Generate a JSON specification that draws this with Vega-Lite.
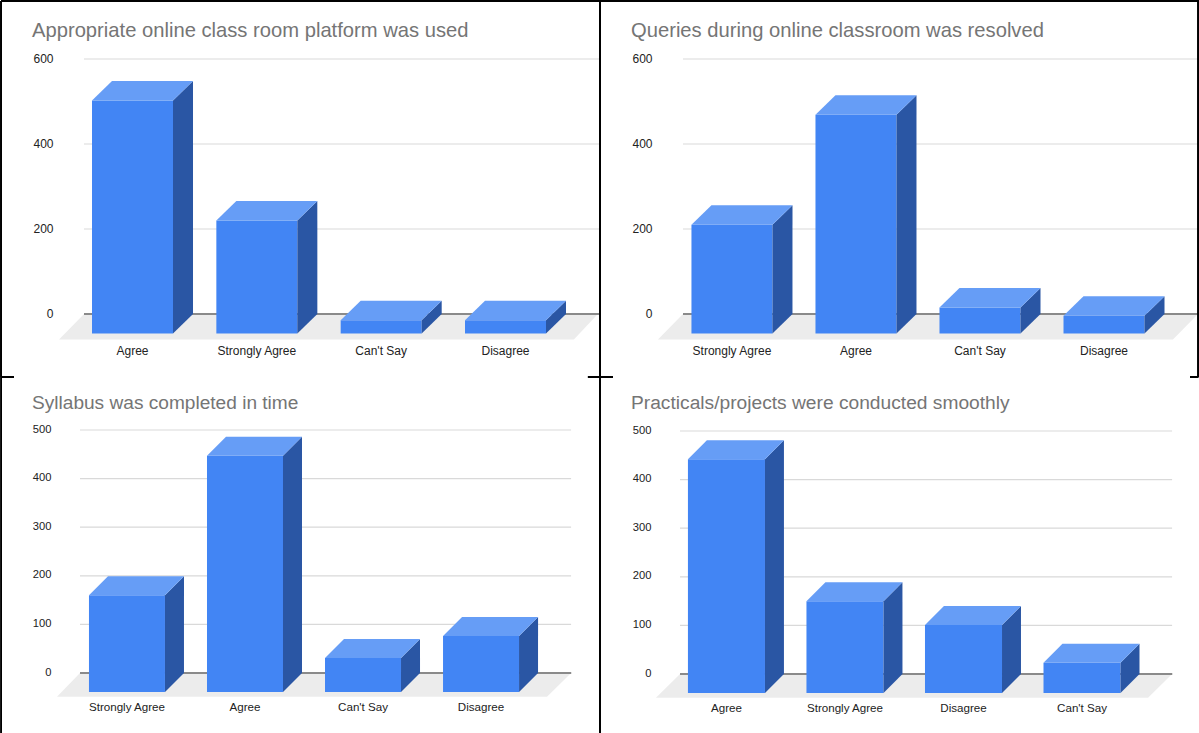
{
"$schema":"https://vega.github.io/schema/vega-lite/v6.json",
"padding":0,
"bounds":"flush",
"spacing":371,
"background":"white",
"config":{"view":{"stroke":null},"font":"Liberation Sans","title":{"font":"Liberation Sans","fontWeight":"normal","color":"#757575","anchor":"start","frame":"group"},"rule":{"color":"black","strokeWidth":1.6}},
"vconcat":[
{"hconcat":[
{"width":520,"height":255,
 "title":{"text":"Appropriate online class room platform was used","fontSize":20.2,"dx":-48,"offset":-41},
 "data":{"values":[{"answer":"Agree","responses":548},{"answer":"Strongly Agree","responses":266},{"answer":"Can't Say","responses":31},{"answer":"Disagree","responses":31}]},
 "transform":[{"window":[{"op":"row_number","as":"n"}]},{"calculate":"datum.n-1","as":"pos"},{"calculate":"datum.pos-0.3257","as":"xl"},{"calculate":"datum.pos+0.3257","as":"xr"},{"calculate":"datum.responses-45.9","as":"frontTop"}],
 "resolve":{"axis":{"y":"independent"}},
 "layer":[
  {"data":{"values":[{"surface":"floor"}]},"transform":[{"calculate":"[-0.591,-0.390,3.550,3.743]","as":"fx"},{"calculate":"[-60,-60,-60,0]","as":"fl"},{"calculate":"[-60,0,0,0]","as":"fu"},{"flatten":["fx","fl","fu"]}],
   "mark":{"type":"area","orient":"vertical","color":"#ececec"},
   "encoding":{"x":{"field":"fx","type":"quantitative","scale":{"domain":[-0.4223,3.76],"nice":false,"zero":false},"axis":null},
    "y":{"field":"fl","type":"quantitative","scale":{"domain":[0,600],"nice":false},"axis":null},"y2":{"field":"fu"}}},
  {"data":{"values":[{"tick":0},{"tick":200},{"tick":400},{"tick":600}]},
   "mark":{"type":"rule","color":"#d9d9d9","strokeWidth":1.2},
   "encoding":{"y":{"field":"tick","type":"quantitative","axis":{"title":null,"domain":false,"ticks":false,"grid":false,"values":[0,200,400,600],"labelPadding":27,"labelFontSize":12,"labelColor":"#222222","labelOffset":-1}},
    "x":{"datum":-0.390,"type":"quantitative","axis":null},"x2":{"datum":3.76}}},
  {"mark":{"type":"rule","color":"#8a8a8a","strokeWidth":1.4},"encoding":{"y":{"datum":0,"type":"quantitative","axis":null},"x":{"datum":-0.390,"type":"quantitative","axis":null},"x2":{"datum":3.76}}},
  {"mark":{"type":"rect","color":"#4285f4"},"encoding":{"x":{"field":"xl","type":"quantitative","axis":null},"x2":{"field":"xr"},"y":{"field":"frontTop","type":"quantitative","axis":null},"y2":{"datum":-45.9}}},
  {"transform":[{"calculate":"[datum.xr,datum.xr+0.1609]","as":"sx"},{"calculate":"[datum.frontTop,datum.responses]","as":"st"},{"calculate":"[-45.9,0]","as":"sb"},{"flatten":["sx","st","sb"]}],
   "mark":{"type":"area","orient":"vertical","color":"#2a56a4"},
   "encoding":{"x":{"field":"sx","type":"quantitative","axis":null},"y":{"field":"st","type":"quantitative","axis":null},"y2":{"field":"sb"},"detail":{"field":"answer"}}},
  {"transform":[{"calculate":"[datum.xl,datum.xl+0.1609,datum.xr,datum.xr+0.1609]","as":"tx"},{"calculate":"[datum.frontTop,datum.frontTop,datum.frontTop,datum.responses]","as":"tl"},{"calculate":"[datum.frontTop,datum.responses,datum.responses,datum.responses]","as":"tu"},{"flatten":["tx","tl","tu"]}],
   "mark":{"type":"area","orient":"vertical","color":"#669df6"},
   "encoding":{"x":{"field":"tx","type":"quantitative","axis":null},"y":{"field":"tl","type":"quantitative","axis":null},"y2":{"field":"tu"},"detail":{"field":"answer"}}},
  {"mark":{"type":"text","fontSize":12,"color":"#222222","baseline":"middle"},"encoding":{"x":{"field":"pos","type":"quantitative","axis":null},"y":{"datum":-87,"type":"quantitative","axis":null},"text":{"field":"answer"}}},
  {"mark":{"type":"rule"},"encoding":{"x":{"datum":-1.0561,"type":"quantitative","axis":null},"y":{"datum":736.5,"type":"quantitative","axis":null},"y2":{"datum":-148.2}}},
  {"mark":{"type":"rule"},"encoding":{"y":{"datum":736.5,"type":"quantitative","axis":null},"x":{"datum":-1.0561,"type":"quantitative","axis":null},"x2":{"datum":3.76}}},
  {"mark":{"type":"rule"},"encoding":{"x":{"datum":3.76,"type":"quantitative","axis":null},"y":{"datum":736.5,"type":"quantitative","axis":null},"y2":{"datum":-148.2}}},
  {"mark":{"type":"rule"},"encoding":{"y":{"datum":-148.2,"type":"quantitative","axis":null},"x":{"datum":-1.0561,"type":"quantitative","axis":null},"x2":{"datum":-0.953}}},
  {"mark":{"type":"rule"},"encoding":{"y":{"datum":-148.2,"type":"quantitative","axis":null},"x":{"datum":3.663,"type":"quantitative","axis":null},"x2":{"datum":3.76}}}
 ]},
{"width":519,"height":255,
 "title":{"text":"Queries during online classroom was resolved","fontSize":20.2,"dx":-49,"offset":-41},
 "data":{"values":[{"answer":"Strongly Agree","responses":256},{"answer":"Agree","responses":515},{"answer":"Can't Say","responses":61},{"answer":"Disagree","responses":42}]},
 "transform":[{"window":[{"op":"row_number","as":"n"}]},{"calculate":"datum.n-1","as":"pos"},{"calculate":"datum.pos-0.3266","as":"xl"},{"calculate":"datum.pos+0.3266","as":"xr"},{"calculate":"datum.responses-45.9","as":"frontTop"}],
 "resolve":{"axis":{"y":"independent"}},
 "layer":[
  {"data":{"values":[{"surface":"floor"}]},"transform":[{"calculate":"[-0.597,-0.395,3.556,3.758]","as":"fx"},{"calculate":"[-60,-60,-60,0]","as":"fl"},{"calculate":"[-60,0,0,0]","as":"fu"},{"flatten":["fx","fl","fu"]}],
   "mark":{"type":"area","orient":"vertical","color":"#ececec"},
   "encoding":{"x":{"field":"fx","type":"quantitative","scale":{"domain":[-0.419,3.766],"nice":false,"zero":false},"axis":null},
    "y":{"field":"fl","type":"quantitative","scale":{"domain":[0,600],"nice":false},"axis":null},"y2":{"field":"fu"}}},
  {"data":{"values":[{"tick":0},{"tick":200},{"tick":400},{"tick":600}]},
   "mark":{"type":"rule","color":"#d9d9d9","strokeWidth":1.2},
   "encoding":{"y":{"field":"tick","type":"quantitative","axis":{"title":null,"domain":false,"ticks":false,"grid":false,"values":[0,200,400,600],"labelPadding":28,"labelFontSize":12,"labelColor":"#222222","labelOffset":-1}},
    "x":{"datum":-0.395,"type":"quantitative","axis":null},"x2":{"datum":3.758}}},
  {"mark":{"type":"rule","color":"#8a8a8a","strokeWidth":1.4},"encoding":{"y":{"datum":0,"type":"quantitative","axis":null},"x":{"datum":-0.395,"type":"quantitative","axis":null},"x2":{"datum":3.758}}},
  {"mark":{"type":"rect","color":"#4285f4"},"encoding":{"x":{"field":"xl","type":"quantitative","axis":null},"x2":{"field":"xr"},"y":{"field":"frontTop","type":"quantitative","axis":null},"y2":{"datum":-45.9}}},
  {"transform":[{"calculate":"[datum.xr,datum.xr+0.1613]","as":"sx"},{"calculate":"[datum.frontTop,datum.responses]","as":"st"},{"calculate":"[-45.9,0]","as":"sb"},{"flatten":["sx","st","sb"]}],
   "mark":{"type":"area","orient":"vertical","color":"#2a56a4"},
   "encoding":{"x":{"field":"sx","type":"quantitative","axis":null},"y":{"field":"st","type":"quantitative","axis":null},"y2":{"field":"sb"},"detail":{"field":"answer"}}},
  {"transform":[{"calculate":"[datum.xl,datum.xl+0.1613,datum.xr,datum.xr+0.1613]","as":"tx"},{"calculate":"[datum.frontTop,datum.frontTop,datum.frontTop,datum.responses]","as":"tl"},{"calculate":"[datum.frontTop,datum.responses,datum.responses,datum.responses]","as":"tu"},{"flatten":["tx","tl","tu"]}],
   "mark":{"type":"area","orient":"vertical","color":"#669df6"},
   "encoding":{"x":{"field":"tx","type":"quantitative","axis":null},"y":{"field":"tl","type":"quantitative","axis":null},"y2":{"field":"tu"},"detail":{"field":"answer"}}},
  {"mark":{"type":"text","fontSize":12,"color":"#222222","baseline":"middle"},"encoding":{"x":{"field":"pos","type":"quantitative","axis":null},"y":{"datum":-87,"type":"quantitative","axis":null},"text":{"field":"answer"}}},
  {"mark":{"type":"rule"},"encoding":{"y":{"datum":736.5,"type":"quantitative","axis":null},"x":{"datum":-1.0645,"type":"quantitative","axis":null},"x2":{"datum":3.766}}},
  {"mark":{"type":"rule"},"encoding":{"x":{"datum":3.760,"type":"quantitative","axis":null},"y":{"datum":736.5,"type":"quantitative","axis":null},"y2":{"datum":-148.2}}},
  {"mark":{"type":"rule"},"encoding":{"y":{"datum":-148.2,"type":"quantitative","axis":null},"x":{"datum":-1.0645,"type":"quantitative","axis":null},"x2":{"datum":-0.960}}},
  {"mark":{"type":"rule"},"encoding":{"y":{"datum":-148.2,"type":"quantitative","axis":null},"x":{"datum":3.694,"type":"quantitative","axis":null},"x2":{"datum":3.76}}}
 ]}
],"spacing":80,"bounds":"flush"},
{"hconcat":[
{"width":520,"height":244,
 "title":{"text":"Syllabus was completed in time","fontSize":19.1,"dx":-48,"offset":-37},
 "data":{"values":[{"answer":"Strongly Agree","responses":199},{"answer":"Agree","responses":486},{"answer":"Can't Say","responses":70},{"answer":"Disagree","responses":115}]},
 "transform":[{"window":[{"op":"row_number","as":"n"}]},{"calculate":"datum.n-1","as":"pos"},{"calculate":"datum.pos-0.322","as":"xl"},{"calculate":"datum.pos+0.322","as":"xr"},{"calculate":"datum.responses-39.1","as":"frontTop"}],
 "resolve":{"axis":{"y":"independent"}},
 "layer":[
  {"data":{"values":[{"surface":"floor"}]},"transform":[{"calculate":"[-0.593,-0.398,3.559,3.763]","as":"fx"},{"calculate":"[-48.8,-48.8,-48.8,0]","as":"fl"},{"calculate":"[-48.8,0,0,0]","as":"fu"},{"flatten":["fx","fl","fu"]}],
   "mark":{"type":"area","orient":"vertical","color":"#ececec"},
   "encoding":{"x":{"field":"fx","type":"quantitative","scale":{"domain":[-0.398,4.008],"nice":false,"zero":false},"axis":null},
    "y":{"field":"fl","type":"quantitative","scale":{"domain":[0,500],"nice":false,"range":[243,0]},"axis":null},"y2":{"field":"fu"}}},
  {"data":{"values":[{"tick":0},{"tick":100},{"tick":200},{"tick":300},{"tick":400},{"tick":500}]},
   "mark":{"type":"rule","color":"#d9d9d9","strokeWidth":1.2},
   "encoding":{"y":{"field":"tick","type":"quantitative","axis":{"title":null,"domain":false,"ticks":false,"grid":false,"values":[0,100,200,300,400,500],"labelPadding":29,"labelFontSize":11.2,"labelColor":"#222222","labelOffset":-1}},
    "x":{"datum":-0.398,"type":"quantitative","axis":null},"x2":{"datum":3.763}}},
  {"mark":{"type":"rule","color":"#8a8a8a","strokeWidth":1.4},"encoding":{"y":{"datum":0,"type":"quantitative","axis":null},"x":{"datum":-0.398,"type":"quantitative","axis":null},"x2":{"datum":3.763}}},
  {"mark":{"type":"rect","color":"#4285f4"},"encoding":{"x":{"field":"xl","type":"quantitative","axis":null},"x2":{"field":"xr"},"y":{"field":"frontTop","type":"quantitative","axis":null},"y2":{"datum":-39.1}}},
  {"transform":[{"calculate":"[datum.xr,datum.xr+0.161]","as":"sx"},{"calculate":"[datum.frontTop,datum.responses]","as":"st"},{"calculate":"[-39.1,0]","as":"sb"},{"flatten":["sx","st","sb"]}],
   "mark":{"type":"area","orient":"vertical","color":"#2a56a4"},
   "encoding":{"x":{"field":"sx","type":"quantitative","axis":null},"y":{"field":"st","type":"quantitative","axis":null},"y2":{"field":"sb"},"detail":{"field":"answer"}}},
  {"transform":[{"calculate":"[datum.xl,datum.xl+0.161,datum.xr,datum.xr+0.161]","as":"tx"},{"calculate":"[datum.frontTop,datum.frontTop,datum.frontTop,datum.responses]","as":"tl"},{"calculate":"[datum.frontTop,datum.responses,datum.responses,datum.responses]","as":"tu"},{"flatten":["tx","tl","tu"]}],
   "mark":{"type":"area","orient":"vertical","color":"#669df6"},
   "encoding":{"x":{"field":"tx","type":"quantitative","axis":null},"y":{"field":"tl","type":"quantitative","axis":null},"y2":{"field":"tu"},"detail":{"field":"answer"}}},
  {"mark":{"type":"text","fontSize":11.6,"color":"#222222","baseline":"middle"},"encoding":{"x":{"field":"pos","type":"quantitative","axis":null},"y":{"datum":-72,"type":"quantitative","axis":null},"text":{"field":"answer"}}},
  {"mark":{"type":"rule","strokeWidth":1.2},"encoding":{"x":{"datum":-1.066,"type":"quantitative","axis":null},"y":{"datum":609,"type":"quantitative","axis":null},"y2":{"datum":-123.5}}}
 ]},
{"width":519,"height":244,
 "title":{"text":"Practicals/projects were conducted smoothly","fontSize":19.2,"dx":-49,"offset":-37},
 "data":{"values":[{"answer":"Agree","responses":481},{"answer":"Strongly Agree","responses":189},{"answer":"Disagree","responses":140},{"answer":"Can't Say","responses":62}]},
 "transform":[{"window":[{"op":"row_number","as":"n"}]},{"calculate":"datum.n-1","as":"pos"},{"calculate":"datum.pos-0.325","as":"xl"},{"calculate":"datum.pos+0.325","as":"xr"},{"calculate":"datum.responses-39.1","as":"frontTop"}],
 "resolve":{"axis":{"y":"independent"}},
 "layer":[
  {"data":{"values":[{"surface":"floor"}]},"transform":[{"calculate":"[-0.595,-0.392,3.557,3.760]","as":"fx"},{"calculate":"[-48.8,-48.8,-48.8,0]","as":"fl"},{"calculate":"[-48.8,0,0,0]","as":"fu"},{"flatten":["fx","fl","fu"]}],
   "mark":{"type":"area","orient":"vertical","color":"#ececec"},
   "encoding":{"x":{"field":"fx","type":"quantitative","scale":{"domain":[-0.392,3.987],"nice":false,"zero":false},"axis":null},
    "y":{"field":"fl","type":"quantitative","scale":{"domain":[0,500],"nice":false,"range":[244,1]},"axis":null},"y2":{"field":"fu"}}},
  {"data":{"values":[{"tick":0},{"tick":100},{"tick":200},{"tick":300},{"tick":400},{"tick":500}]},
   "mark":{"type":"rule","color":"#d9d9d9","strokeWidth":1.2},
   "encoding":{"y":{"field":"tick","type":"quantitative","axis":{"title":null,"domain":false,"ticks":false,"grid":false,"values":[0,100,200,300,400,500],"labelPadding":29,"labelFontSize":11.2,"labelColor":"#222222","labelOffset":-1}},
    "x":{"datum":-0.392,"type":"quantitative","axis":null},"x2":{"datum":3.760}}},
  {"mark":{"type":"rule","color":"#8a8a8a","strokeWidth":1.4},"encoding":{"y":{"datum":0,"type":"quantitative","axis":null},"x":{"datum":-0.392,"type":"quantitative","axis":null},"x2":{"datum":3.760}}},
  {"mark":{"type":"rect","color":"#4285f4"},"encoding":{"x":{"field":"xl","type":"quantitative","axis":null},"x2":{"field":"xr"},"y":{"field":"frontTop","type":"quantitative","axis":null},"y2":{"datum":-39.1}}},
  {"transform":[{"calculate":"[datum.xr,datum.xr+0.16]","as":"sx"},{"calculate":"[datum.frontTop,datum.responses]","as":"st"},{"calculate":"[-39.1,0]","as":"sb"},{"flatten":["sx","st","sb"]}],
   "mark":{"type":"area","orient":"vertical","color":"#2a56a4"},
   "encoding":{"x":{"field":"sx","type":"quantitative","axis":null},"y":{"field":"st","type":"quantitative","axis":null},"y2":{"field":"sb"},"detail":{"field":"answer"}}},
  {"transform":[{"calculate":"[datum.xl,datum.xl+0.16,datum.xr,datum.xr+0.16]","as":"tx"},{"calculate":"[datum.frontTop,datum.frontTop,datum.frontTop,datum.responses]","as":"tl"},{"calculate":"[datum.frontTop,datum.responses,datum.responses,datum.responses]","as":"tu"},{"flatten":["tx","tl","tu"]}],
   "mark":{"type":"area","orient":"vertical","color":"#669df6"},
   "encoding":{"x":{"field":"tx","type":"quantitative","axis":null},"y":{"field":"tl","type":"quantitative","axis":null},"y2":{"field":"tu"},"detail":{"field":"answer"}}},
  {"mark":{"type":"text","fontSize":11.6,"color":"#222222","baseline":"middle"},"encoding":{"x":{"field":"pos","type":"quantitative","axis":null},"y":{"datum":-72,"type":"quantitative","axis":null},"text":{"field":"answer"}}},
  {"mark":{"type":"rule"},"encoding":{"x":{"datum":-1.0675,"type":"quantitative","axis":null},"y":{"datum":611,"type":"quantitative","axis":null},"y2":{"datum":-121.4}}}
 ]}
],"spacing":80,"bounds":"flush"}
]}
